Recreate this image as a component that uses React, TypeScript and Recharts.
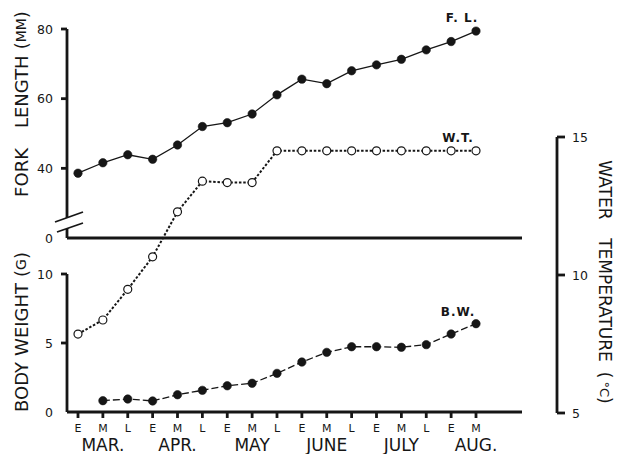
import { LineChart, Line, XAxis, YAxis } from "recharts";

const INK = "#161616";
const FONT = "'DejaVu Sans', sans-serif";

const categories = [
  "MAR. E", "MAR. M", "MAR. L",
  "APR. E", "APR. M", "APR. L",
  "MAY E", "MAY M", "MAY L",
  "JUNE E", "JUNE M", "JUNE L",
  "JULY E", "JULY M", "JULY L",
  "AUG. E", "AUG. M",
];

// fork length (mm)
const forkLength = [38.6, 41.6, 43.9, 42.6, 46.7, 52.0, 53.1, 55.6, 61.1, 65.6, 64.3, 68.0, 69.7, 71.3, 74.0, 76.4, 79.4];
// water temperature (°C)
const waterTemp = [7.86, 8.37, 9.48, 10.66, 12.29, 13.4, 13.35, 13.35, 14.5, 14.5, 14.5, 14.5, 14.5, 14.5, 14.5, 14.5, 14.5];
// body weight (g), no sample in early March
const bodyWeight = [null, 0.82, 0.94, 0.8, 1.25, 1.57, 1.9, 2.08, 2.8, 3.62, 4.32, 4.73, 4.73, 4.69, 4.88, 5.65, 6.4];

const flTicks = [20, 40, 60, 80];
const flBreak = 20; // bottom of the broken fork length axis, printed as 0
const bwTicks = [0, 5, 10];
const wtTicks = [5, 10, 15];

const data = categories.map((cat, i) => ({
  cat,
  fl: forkLength[i],
  wt: waterTemp[i],
  bw: bodyWeight[i],
}));

const W = 617;
const H = 454;
const axisStyle = { stroke: INK, strokeWidth: 2.8 };
const layer = { position: "absolute" as const, left: 0, top: 0 };

const makeYTick =
  (side: "left" | "right", size: number, margin: number, noLine: number | null) =>
  (props: any) => {
    const { x, y, payload } = props;
    const v = payload.value;
    const dir = side === "left" ? 1 : -1;
    const label = v === flBreak && side === "left" && noLine === flBreak ? "0" : String(v);
    return (
      <g>
        {v !== noLine && (
          <line
            x1={x + dir * margin}
            x2={x + dir * (margin + size)}
            y1={y}
            y2={y}
            stroke={INK}
            strokeWidth={2.8}
          />
        )}
        <text
          x={x}
          y={y}
          dy={4.5}
          textAnchor={side === "left" ? "end" : "start"}
          fontSize={12.5}
          fill={INK}
          fontFamily={FONT}
        >
          {label}
        </text>
      </g>
    );
  };

const PeriodTick = (props: any) => {
  const { x, y, payload } = props;
  const [month, period] = String(payload.value).split(" ");
  return (
    <g fill={INK} fontFamily={FONT}>
      <text x={x} y={y} dy={12} textAnchor="middle" fontSize={11}>
        {period}
      </text>
      {period === "M" && (
        <text x={x} y={y} dy={31} textAnchor="middle" fontSize={17}>
          {month}
        </text>
      )}
    </g>
  );
};

const endLabel = (text: string, dx: number, dy: number) => (props: any) => {
  if (props.index !== categories.length - 1) return null;
  const x = props.x ?? props.viewBox?.x;
  const y = props.y ?? props.viewBox?.y;
  return (
    <text
      x={x + dx}
      y={y + dy}
      textAnchor="middle"
      fontSize={12}
      fontWeight="bold"
      letterSpacing={1}
      fill={INK}
      fontFamily={FONT}
    >
      {text}
    </text>
  );
};

const FlTitle = (props: any) => {
  const vb = props.viewBox;
  const cx = vb.x + 14;
  const cy = vb.y + 75;
  return (
    <text
      x={cx}
      y={cy}
      transform={`rotate(-90 ${cx} ${cy})`}
      textAnchor="middle"
      dominantBaseline="central"
      fontSize={18}
      fill={INK}
      fontFamily={FONT}
    >
      <tspan>FORK</tspan>
      <tspan dx={20}>LENGTH</tspan>
      <tspan dx={6}>(</tspan>
      <tspan fontSize={14}>MM</tspan>
      <tspan>)</tspan>
    </text>
  );
};

const BwTitle = (props: any) => {
  const vb = props.viewBox;
  const cx = vb.x + 14;
  const cy = vb.y + 58;
  return (
    <text
      x={cx}
      y={cy}
      transform={`rotate(-90 ${cx} ${cy})`}
      textAnchor="middle"
      dominantBaseline="central"
      fontSize={18}
      fill={INK}
      fontFamily={FONT}
    >
      <tspan>BODY</tspan>
      <tspan dx={6}>WEIGHT</tspan>
      <tspan dx={6}>(</tspan>
      <tspan fontSize={14}>G</tspan>
      <tspan>)</tspan>
    </text>
  );
};

const WtTitle = (props: any) => {
  const vb = props.viewBox;
  const cx = vb.x + 48;
  const cy = vb.y + 145;
  return (
    <text
      x={cx}
      y={cy}
      transform={`rotate(90 ${cx} ${cy})`}
      textAnchor="middle"
      dominantBaseline="central"
      fontSize={17}
      fill={INK}
      fontFamily={FONT}
    >
      <tspan>WATER</tspan>
      <tspan dx={20}>TEMPERATURE</tspan>
      <tspan dx={10}>(</tspan>
      <tspan dx={3} fontSize={13}>°C</tspan>
      <tspan>)</tspan>
    </text>
  );
};

export default function App() {
  return (
    <div style={{ position: "absolute", left: 0, top: 0, width: W, height: H, background: "#fff" }}>
      {/* water temperature, spans both panels, right axis */}
      <div style={layer}>
        <LineChart width={W} height={H} data={data} margin={{ top: 137, right: 0, bottom: 41, left: 67 }}>
          <XAxis dataKey="cat" scale="point" hide padding={{ left: 11, right: 81 }} />
          <YAxis
            yAxisId="wt"
            orientation="right"
            width={60}
            domain={[5, 15]}
            ticks={wtTicks}
            tickSize={8}
            tickMargin={7}
            tickLine={false}
            axisLine={axisStyle}
            tick={makeYTick("right", 8, 7, null)}
            label={<WtTitle />}
          />
          <Line
            yAxisId="wt"
            dataKey="wt"
            stroke={INK}
            strokeWidth={2}
            strokeDasharray="2.5 1.8"
            dot={{ r: 4, fill: "#fff", stroke: INK, strokeWidth: 1.2, strokeDasharray: "0" }}
            label={endLabel("W.T.", -18, -8.5)}
            isAnimationActive={false}
          />
        </LineChart>
      </div>

      {/* fork length, upper panel */}
      <div style={layer}>
        <LineChart width={W} height={H} data={data} margin={{ top: 29, right: 95, bottom: 206, left: 7 }}>
          <XAxis
            dataKey="cat"
            scale="point"
            height={10}
            interval={0}
            padding={{ left: 11, right: 46 }}
            tick={false}
            tickSize={6}
            tickLine={axisStyle}
            axisLine={axisStyle}
          />
          <YAxis
            width={60}
            domain={[flBreak, 80]}
            ticks={flTicks}
            tickSize={6}
            tickMargin={8}
            tickLine={false}
            axisLine={axisStyle}
            tick={makeYTick("left", 6, 8, flBreak)}
            label={<FlTitle />}
          />
          <Line
            dataKey="fl"
            stroke={INK}
            strokeWidth={1.3}
            dot={{ r: 4.2, fill: INK, stroke: INK, strokeWidth: 0.6 }}
            label={endLabel("F. L.", -14, -9.5)}
            isAnimationActive={false}
          />
        </LineChart>
      </div>

      {/* body weight, lower panel */}
      <div style={layer}>
        <LineChart width={W} height={H} data={data} margin={{ top: 274, right: 95, bottom: 0, left: 7 }}>
          <XAxis
            dataKey="cat"
            scale="point"
            height={42}
            interval={0}
            padding={{ left: 11, right: 46 }}
            tick={<PeriodTick />}
            tickSize={6}
            tickMargin={2}
            tickLine={axisStyle}
            axisLine={axisStyle}
          />
          <YAxis
            width={60}
            domain={[0, 10]}
            ticks={bwTicks}
            tickSize={6}
            tickMargin={8}
            tickLine={false}
            axisLine={axisStyle}
            tick={makeYTick("left", 6, 8, 0)}
            label={<BwTitle />}
          />
          <Line
            dataKey="bw"
            stroke={INK}
            strokeWidth={1.3}
            strokeDasharray="7 3"
            dot={{ r: 4.2, fill: INK, stroke: INK, strokeWidth: 0.6, strokeDasharray: "0" }}
            label={endLabel("B.W.", -18, -7.5)}
            isAnimationActive={false}
          />
        </LineChart>
      </div>

      {/* axis break marks on the fork length axis */}
      <svg width={W} height={H} style={layer}>
        <polygon points="61,219.9 73,215.6 73,226.5 61,230.6" fill="#fff" />
        <line x1={55} y1={222} x2={83} y2={212} stroke={INK} strokeWidth={1.8} />
        <line x1={57} y1={232} x2={83} y2={223} stroke={INK} strokeWidth={1.8} />
      </svg>
    </div>
  );
}
